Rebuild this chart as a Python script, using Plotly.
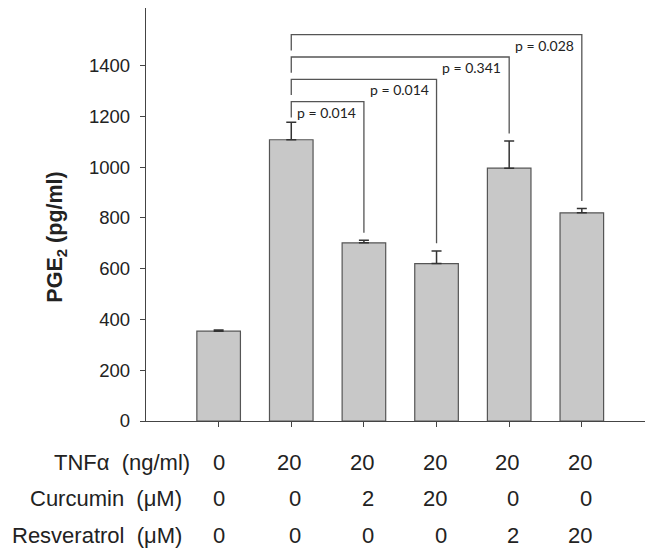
import plotly.graph_objects as go

# ---- data ----
positions = [1, 2, 3, 4, 5, 6]
pge2 = [354, 1108, 702, 620, 996, 820]
pge2_err = [4, 69, 10, 50, 107, 17]

row_labels = ["TNF\u03b1\u00a0 (ng/ml)", "Curcumin\u00a0 (\u03bcM)", "Resveratrol\u00a0 (\u03bcM)"]
tnf = ["0", "20", "20", "20", "20", "20"]
curcumin = ["0", "0", "2", "20", "0", "0"]
resveratrol = ["0", "0", "0", "0", "2", "20"]

ref_group = 1  # index of TNF-alpha only bar
compare_groups = [2, 3, 4, 5]
p_values = ["p = 0.014", "p = 0.014", "p = 0.341", "p = 0.028"]

y_ticks = [0, 200, 400, 600, 800, 1000, 1200, 1400]

# ---- style / layout ----
PAGE = 8                      # browser body margin
W, H = 653 - PAGE, 550 - PAGE
ML, MT = 146 - PAGE, 0
BOTTOM_SCREEN = 420.7
MB = H - (BOTTOM_SCREEN - PAGE)
PW = W - ML
PH = H - MT - MB
X_RANGE = [0, 6.98]
Y_RANGE = [0, 1627]
TXT = "#222222"
LINE = "#444444"

fig = go.Figure()
fig.add_trace(go.Bar(
    x=positions, y=pge2, width=0.6,
    marker=dict(color="#c8c8c8", line=dict(color="#555555", width=1.2)),
    error_y=dict(type="data", array=pge2_err, arrayminus=[0]*len(pge2_err),
                 symmetric=False, color="#333333", thickness=1.5, width=5),
    showlegend=False, hoverinfo="skip",
))

shapes = []
annotations = []
bracket_base, bracket_step = 1258, 88
left_drop, right_gap, label_drop = 62, 30, 41
x0 = positions[ref_group]
for k, (g, p) in enumerate(zip(compare_groups, p_values)):
    level = bracket_base + k * bracket_step
    x1 = positions[g]
    right_end = pge2[g] + pge2_err[g] + right_gap
    shapes.append(dict(type="path", xref="x", yref="y",
                       path=f"M {x0},{level - left_drop} L {x0},{level} L {x1},{level} L {x1},{right_end}",
                       line=dict(color="#555555", width=1.3)))
    annotations.append(dict(x=x1, y=level - label_drop, xref="x", yref="y",
                            text=p, showarrow=False, xanchor="right", yanchor="middle",
                            xshift=-6, font=dict(family="Lato", size=14, color=TXT)))

# screen px -> paper coords
def py2paper(py):
    return (BOTTOM_SCREEN - py) / PH

def px2paper(px):
    return (px - 146) / PW

TFONT = dict(family="Liberation Sans", size=22, color=TXT)
rows = [tnf, curcumin, resveratrol]
row_y_px = [461.7, 498.3, 535.0]
label_right_px = [191.7, 183.5, 183.5]
for r, (lab, vals) in enumerate(zip(row_labels, rows)):
    annotations.append(dict(x=px2paper(label_right_px[r]), y=py2paper(row_y_px[r]),
                            xref="paper", yref="paper", text=lab, showarrow=False,
                            xanchor="right", yanchor="middle", font=TFONT))
cols = list(zip(*rows))
for c, colvals in enumerate(cols):
    mixed = len(set(len(v) for v in colvals)) > 1
    for r, v in enumerate(colvals):
        annotations.append(dict(x=positions[c], y=py2paper(row_y_px[r]), xref="x", yref="paper",
                                text=v, showarrow=False,
                                xanchor="right" if mixed else "center", yanchor="middle",
                                xshift=12 if mixed else 0, font=TFONT))

annotations.append(dict(x=px2paper(57), y=py2paper(237.5), xref="paper", yref="paper",
                        text="<b>PGE<sub>2</sub> (pg/ml)</b>", textangle=-90, showarrow=False,
                        xanchor="center", yanchor="middle",
                        font=dict(family="Liberation Sans", size=21.5, color=TXT)))

fig.update_layout(
    width=W, height=H,
    margin=dict(l=ML, r=0, t=MT, b=MB, pad=0),
    paper_bgcolor="white", plot_bgcolor="white",
    shapes=shapes, annotations=annotations,
    xaxis=dict(range=X_RANGE, tickvals=positions, showticklabels=False,
               ticks="outside", ticklen=5, tickcolor=LINE, tickwidth=1.3,
               showline=True, linecolor=LINE, linewidth=1.3, mirror=True,
               showgrid=False, zeroline=False, fixedrange=True),
    yaxis=dict(range=Y_RANGE, tickvals=y_ticks, ticks="outside", ticklen=5,
               tickcolor=LINE, tickwidth=1.3, showline=True, linecolor=LINE, linewidth=1.3,
               showgrid=False, zeroline=False,
               tickfont=dict(family="Liberation Sans", size=18.5, color=TXT),
               ticklabelstandoff=6, fixedrange=True),
)

fig.write_html("out.html")
